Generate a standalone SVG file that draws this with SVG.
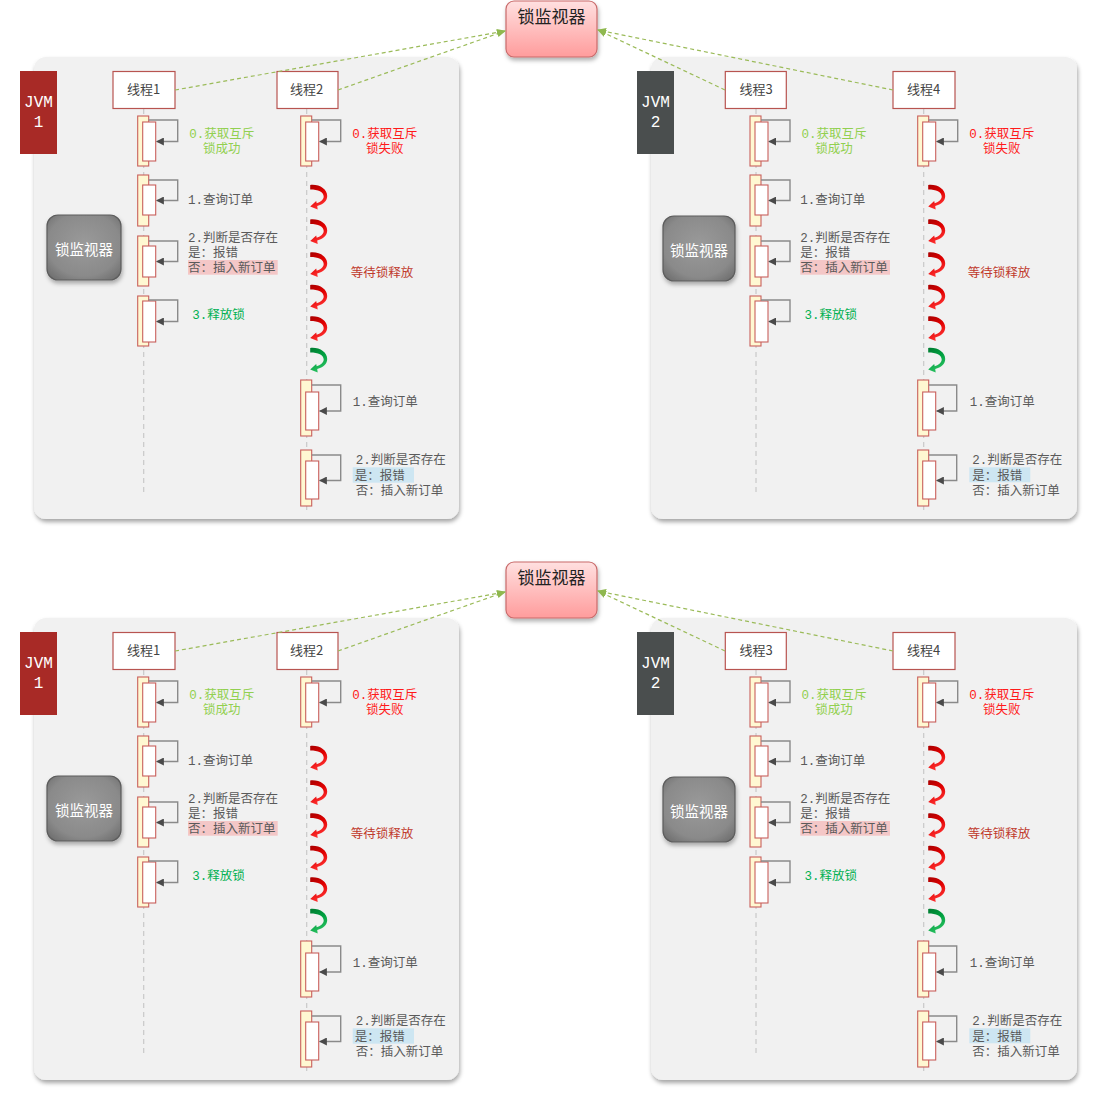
<svg xmlns="http://www.w3.org/2000/svg" xmlns:xlink="http://www.w3.org/1999/xlink" width="1097" height="1109" viewBox="0 0 1097 1109">
<style>
.panel{fill:#f1f1f1;filter:url(#psh)}
.jvm{font-family:"Liberation Mono","DejaVu Sans Mono",monospace;font-size:16px;fill:#ffffff;text-anchor:middle;dominant-baseline:central}
.thr{fill:#ffffff;stroke:#b85450;stroke-width:1.2}
.thrt{font-family:"Noto Sans CJK SC","Noto Sans",sans-serif;font-size:13px;fill:#444;text-anchor:middle;dominant-baseline:central;transform:translateY(-1.5px)}
.life{stroke:#c8c8c8;stroke-width:1.2;stroke-dasharray:5 4;fill:none}
.ao{fill:#fff8d2;stroke:#c9605c;stroke-width:1.1}
.ai{fill:#ffffff;stroke:#c9605c;stroke-width:1.1}
.loop{fill:none;stroke:#8a8a8a;stroke-width:1.4}
.t{font-family:"Liberation Mono","Noto Sans CJK SC",monospace;font-size:12.5px;fill:#5a5a5a;dominant-baseline:central;transform:translateY(1.5px)}
.ok{fill:#92d050;text-anchor:middle}
.bad{fill:#ff1a1a;text-anchor:middle}
.rel{fill:#00b050}
.wait{fill:#c0392b}
.pink{fill:#f4c7c7}
.blue{fill:#cde6f2}
.conn{fill:none;stroke:#9bbb59;stroke-width:1.2;stroke-dasharray:4 3}
.mon{fill:url(#mong);stroke:#c96b6b;stroke-width:1.2;filter:url(#bsh)}
.mont{font-family:"Noto Sans CJK SC","Noto Sans",sans-serif;font-size:17px;fill:#222;text-anchor:middle;dominant-baseline:central;transform:translateY(-1.5px)}
.gm{fill:url(#grayg);stroke:#5c5c5c;stroke-width:1.2;filter:url(#bsh)}
.gmt{font-family:"Noto Sans CJK SC","Noto Sans",sans-serif;font-size:14.5px;fill:#ffffff;text-anchor:middle;dominant-baseline:central}
</style>
<defs>
<filter id="psh" x="-5%" y="-5%" width="110%" height="112%"><feDropShadow dx="1" dy="3" stdDeviation="2" flood-color="#000" flood-opacity="0.35"/></filter>
<filter id="bsh" x="-20%" y="-20%" width="140%" height="150%"><feDropShadow dx="1" dy="3" stdDeviation="2" flood-color="#000" flood-opacity="0.3"/></filter>
<linearGradient id="mong" x1="0" y1="0" x2="0" y2="1"><stop offset="0" stop-color="#ffe0e0"/><stop offset="1" stop-color="#ff9c9c"/></linearGradient>
<radialGradient id="grayg" cx="0.5" cy="0.45" r="0.7"><stop offset="0" stop-color="#9a9a9a"/><stop offset="0.7" stop-color="#8a8a8a"/><stop offset="1" stop-color="#6c6c6c"/></radialGradient>
<linearGradient id="redg" x1="0" y1="0" x2="0.4" y2="1"><stop offset="0" stop-color="#a80000"/><stop offset="0.5" stop-color="#e00000"/><stop offset="1" stop-color="#ff3333"/></linearGradient>
<linearGradient id="greeng" x1="0" y1="0" x2="0.4" y2="1"><stop offset="0" stop-color="#007a30"/><stop offset="0.5" stop-color="#00a040"/><stop offset="1" stop-color="#2ac060"/></linearGradient>
<path id="cv" d="M0,0 C9,-1 17,4 17,11 C17,16 13,19.5 7,21 L7.5,24.5 L0,21.5 L6,16 L6.5,18.3 C10,17 13.5,15 13.5,11.5 C13.5,7 8,4.5 0,4.5 Z"/>
<marker id="ah" viewBox="0 0 10 10" refX="9" refY="5" markerWidth="8" markerHeight="8" markerUnits="userSpaceOnUse" orient="auto"><path d="M0,0 L10,5 L0,10 z" fill="#4a4a4a"/></marker>
<marker id="ga" viewBox="0 0 10 10" refX="9" refY="5" markerWidth="9" markerHeight="9" markerUnits="userSpaceOnUse" orient="auto"><path d="M0,1 L10,5 L0,9 z" fill="#8fb84f"/></marker>
</defs>

<!-- ================= TOP HALF ================= -->
<g id="top">
<g id="panel-jvm1-top"><rect class="panel" x="34" y="57" width="425" height="462" rx="12"/></g>
<g id="panel-jvm2-top"><rect class="panel" x="651" y="57" width="426" height="462" rx="12"/></g>

<g id="jvm1-top"><rect x="20" y="71" width="37" height="83" fill="#a82a26"/><text class="jvm" x="38.5" y="102.5">JVM</text><text class="jvm" x="38.5" y="122.5">1</text></g>
<g id="jvm2-top"><rect x="637" y="71" width="37" height="83" fill="#4a4e4e"/><text class="jvm" x="655.5" y="102.5">JVM</text><text class="jvm" x="655.5" y="122.5">2</text></g>

<g id="monitor-top"><rect class="mon" x="506" y="1" width="91" height="56" rx="8"/><text class="mont" x="551.5" y="17">锁监视器</text></g>
<g id="gm1-top"><rect class="gm" x="47" y="215" width="74" height="65" rx="11"/><text class="gmt" x="84" y="248">锁监视器</text></g>
<g id="gm2-top"><rect class="gm" x="663" y="216" width="72" height="65" rx="11"/><text class="gmt" x="699" y="249">锁监视器</text></g>

<!-- Thread 1 -->
<g id="t1-top" transform="translate(143.7,0)">
<line class="life" x1="0" y1="109" x2="0" y2="495"/>
<rect class="thr" x="-30.7" y="71.5" width="62" height="37"/><text class="thrt" x="0" y="90">线程1</text>
<rect class="ao" x="-6" y="116" width="11" height="50"/><rect class="ai" x="-1" y="122" width="13" height="39"/><path class="loop" d="M5,120 H34 V141.5 H13" marker-end="url(#ah)"/>
<text class="t ok" x="78" y="133.3">0.获取互斥</text><text class="t ok" x="78" y="148.5">锁成功</text>
<rect class="ao" x="-6" y="175" width="11" height="51"/><rect class="ai" x="-1" y="185" width="13" height="30"/><path class="loop" d="M5,180 H34 V200.5 H13" marker-end="url(#ah)"/>
<text class="t" x="44.3" y="199">1.查询订单</text>
<rect class="ao" x="-6" y="236" width="11" height="50"/><rect class="ai" x="-1" y="246" width="13" height="31"/><path class="loop" d="M5,241 H34 V261.5 H13" marker-end="url(#ah)"/>
<rect class="pink" x="44.3" y="260" width="89.7" height="14.7"/>
<text class="t" x="44.3" y="237">2.判断是否存在</text><text class="t" x="44.3" y="252.7">是：报错</text><text class="t" x="44.3" y="267.7">否：插入新订单</text>
<rect class="ao" x="-6" y="296" width="11" height="50"/><rect class="ai" x="-1" y="301" width="13" height="41"/><path class="loop" d="M5,300 H34 V321.5 H13" marker-end="url(#ah)"/>
<text class="t rel" x="48.6" y="314">3.释放锁</text>
</g>

<!-- Thread 2 -->
<g id="t2-top" transform="translate(306.7,0)">
<line class="life" x1="0" y1="109" x2="0" y2="511"/>
<rect class="thr" x="-29.7" y="71.5" width="61" height="37"/><text class="thrt" x="0" y="90">线程2</text>
<rect class="ao" x="-6" y="116" width="11" height="50"/><rect class="ai" x="-1" y="122" width="13" height="39"/><path class="loop" d="M5,120 H34 V141.5 H13" marker-end="url(#ah)"/>
<text class="t bad" x="78" y="133.7">0.获取互斥</text><text class="t bad" x="78" y="148.7">锁失败</text>
<use xlink:href="#cv" x="3.5" y="185" fill="url(#redg)"/>
<use xlink:href="#cv" x="3.5" y="219.5" fill="url(#redg)"/>
<use xlink:href="#cv" x="3.5" y="252.5" fill="url(#redg)"/>
<use xlink:href="#cv" x="3.5" y="285" fill="url(#redg)"/>
<use xlink:href="#cv" x="3.5" y="316.5" fill="url(#redg)"/>
<use xlink:href="#cv" x="3.5" y="348" fill="url(#greeng)"/>
<text class="t wait" x="44" y="272.5">等待锁释放</text>
<rect class="ao" x="-6" y="380" width="11" height="56"/><rect class="ai" x="-1" y="392" width="13" height="38"/><path class="loop" d="M5,385 H34 V411 H13" marker-end="url(#ah)"/>
<text class="t" x="46" y="401.7">1.查询订单</text>
<rect class="ao" x="-6" y="450" width="11" height="56"/><rect class="ai" x="-1" y="461" width="13" height="38"/><path class="loop" d="M5,455 H34 V480.5 H13" marker-end="url(#ah)"/>
<rect class="blue" x="46" y="467.3" width="61.3" height="15.4"/>
<text class="t" x="49" y="459">2.判断是否存在</text><text class="t" x="48" y="475">是：报错</text><text class="t" x="49" y="490">否：插入新订单</text>
</g>

<!-- Thread 3 -->
<g id="t3-top" transform="translate(756,0)">
<line class="life" x1="0" y1="109" x2="0" y2="496"/>
<rect class="thr" x="-30.7" y="71.5" width="61" height="37"/><text class="thrt" x="0" y="90">线程3</text>
<rect class="ao" x="-6" y="116" width="11" height="50"/><rect class="ai" x="-1" y="122" width="13" height="39"/><path class="loop" d="M5,120 H34 V141.5 H13" marker-end="url(#ah)"/>
<text class="t ok" x="78" y="133.3">0.获取互斥</text><text class="t ok" x="78" y="148.5">锁成功</text>
<rect class="ao" x="-6" y="175" width="11" height="51"/><rect class="ai" x="-1" y="185" width="13" height="30"/><path class="loop" d="M5,180 H34 V200.5 H13" marker-end="url(#ah)"/>
<text class="t" x="44.3" y="199">1.查询订单</text>
<rect class="ao" x="-6" y="236" width="11" height="50"/><rect class="ai" x="-1" y="246" width="13" height="31"/><path class="loop" d="M5,241 H34 V261.5 H13" marker-end="url(#ah)"/>
<rect class="pink" x="44.3" y="260" width="89.7" height="14.7"/>
<text class="t" x="44.3" y="237">2.判断是否存在</text><text class="t" x="44.3" y="252.7">是：报错</text><text class="t" x="44.3" y="267.7">否：插入新订单</text>
<rect class="ao" x="-6" y="296" width="11" height="50"/><rect class="ai" x="-1" y="301" width="13" height="41"/><path class="loop" d="M5,300 H34 V321.5 H13" marker-end="url(#ah)"/>
<text class="t rel" x="48.6" y="314">3.释放锁</text>
</g>

<!-- Thread 4 -->
<g id="t4-top" transform="translate(923.7,0)">
<line class="life" x1="0" y1="109" x2="0" y2="511"/>
<rect class="thr" x="-30.7" y="71.5" width="62" height="37"/><text class="thrt" x="0" y="90">线程4</text>
<rect class="ao" x="-6" y="116" width="11" height="50"/><rect class="ai" x="-1" y="122" width="13" height="39"/><path class="loop" d="M5,120 H34 V141.5 H13" marker-end="url(#ah)"/>
<text class="t bad" x="78" y="133.7">0.获取互斥</text><text class="t bad" x="78" y="148.7">锁失败</text>
<use xlink:href="#cv" x="4.5" y="185" fill="url(#redg)"/>
<use xlink:href="#cv" x="4.5" y="219.5" fill="url(#redg)"/>
<use xlink:href="#cv" x="4.5" y="252.5" fill="url(#redg)"/>
<use xlink:href="#cv" x="4.5" y="285" fill="url(#redg)"/>
<use xlink:href="#cv" x="4.5" y="316.5" fill="url(#redg)"/>
<use xlink:href="#cv" x="4.5" y="348" fill="url(#greeng)"/>
<text class="t wait" x="44" y="272.5">等待锁释放</text>
<rect class="ao" x="-6" y="380" width="11" height="56"/><rect class="ai" x="-1" y="392" width="13" height="38"/><path class="loop" d="M5,385 H33 V411 H13" marker-end="url(#ah)"/>
<text class="t" x="46" y="401.7">1.查询订单</text>
<rect class="ao" x="-6" y="450" width="11" height="56"/><rect class="ai" x="-1" y="461" width="13" height="38"/><path class="loop" d="M5,455 H33 V480.5 H13" marker-end="url(#ah)"/>
<rect class="blue" x="45.6" y="467.3" width="61" height="15"/>
<text class="t" x="48.6" y="459">2.判断是否存在</text><text class="t" x="48.6" y="475">是：报错</text><text class="t" x="48.6" y="490">否：插入新订单</text>
</g>

<g id="connectors-top">
<path class="conn" d="M175,90 L505,31" marker-end="url(#ga)"/>
<path class="conn" d="M338,90 L505,31" marker-end="url(#ga)"/>
<path class="conn" d="M725,90 L598,30" marker-end="url(#ga)"/>
<path class="conn" d="M893,90 L598,30" marker-end="url(#ga)"/>
</g>
</g>

<!-- ================= BOTTOM HALF ================= -->
<g id="bottom" transform="translate(0,561)">
<g id="panel-jvm1-bot"><rect class="panel" x="34" y="57" width="425" height="462" rx="12"/></g>
<g id="panel-jvm2-bot"><rect class="panel" x="651" y="57" width="426" height="462" rx="12"/></g>

<g id="jvm1-bot"><rect x="20" y="71" width="37" height="83" fill="#a82a26"/><text class="jvm" x="38.5" y="102.5">JVM</text><text class="jvm" x="38.5" y="122.5">1</text></g>
<g id="jvm2-bot"><rect x="637" y="71" width="37" height="83" fill="#4a4e4e"/><text class="jvm" x="655.5" y="102.5">JVM</text><text class="jvm" x="655.5" y="122.5">2</text></g>

<g id="monitor-bot"><rect class="mon" x="506" y="1" width="91" height="56" rx="8"/><text class="mont" x="551.5" y="17">锁监视器</text></g>
<g id="gm1-bot"><rect class="gm" x="47" y="215" width="74" height="65" rx="11"/><text class="gmt" x="84" y="248">锁监视器</text></g>
<g id="gm2-bot"><rect class="gm" x="663" y="216" width="72" height="65" rx="11"/><text class="gmt" x="699" y="249">锁监视器</text></g>

<g id="t1-bot" transform="translate(143.7,0)">
<line class="life" x1="0" y1="109" x2="0" y2="495"/>
<rect class="thr" x="-30.7" y="71.5" width="62" height="37"/><text class="thrt" x="0" y="90">线程1</text>
<rect class="ao" x="-6" y="116" width="11" height="50"/><rect class="ai" x="-1" y="122" width="13" height="39"/><path class="loop" d="M5,120 H34 V141.5 H13" marker-end="url(#ah)"/>
<text class="t ok" x="78" y="133.3">0.获取互斥</text><text class="t ok" x="78" y="148.5">锁成功</text>
<rect class="ao" x="-6" y="175" width="11" height="51"/><rect class="ai" x="-1" y="185" width="13" height="30"/><path class="loop" d="M5,180 H34 V200.5 H13" marker-end="url(#ah)"/>
<text class="t" x="44.3" y="199">1.查询订单</text>
<rect class="ao" x="-6" y="236" width="11" height="50"/><rect class="ai" x="-1" y="246" width="13" height="31"/><path class="loop" d="M5,241 H34 V261.5 H13" marker-end="url(#ah)"/>
<rect class="pink" x="44.3" y="260" width="89.7" height="14.7"/>
<text class="t" x="44.3" y="237">2.判断是否存在</text><text class="t" x="44.3" y="252.7">是：报错</text><text class="t" x="44.3" y="267.7">否：插入新订单</text>
<rect class="ao" x="-6" y="296" width="11" height="50"/><rect class="ai" x="-1" y="301" width="13" height="41"/><path class="loop" d="M5,300 H34 V321.5 H13" marker-end="url(#ah)"/>
<text class="t rel" x="48.6" y="314">3.释放锁</text>
</g>

<g id="t2-bot" transform="translate(306.7,0)">
<line class="life" x1="0" y1="109" x2="0" y2="511"/>
<rect class="thr" x="-29.7" y="71.5" width="61" height="37"/><text class="thrt" x="0" y="90">线程2</text>
<rect class="ao" x="-6" y="116" width="11" height="50"/><rect class="ai" x="-1" y="122" width="13" height="39"/><path class="loop" d="M5,120 H34 V141.5 H13" marker-end="url(#ah)"/>
<text class="t bad" x="78" y="133.7">0.获取互斥</text><text class="t bad" x="78" y="148.7">锁失败</text>
<use xlink:href="#cv" x="3.5" y="185" fill="url(#redg)"/>
<use xlink:href="#cv" x="3.5" y="219.5" fill="url(#redg)"/>
<use xlink:href="#cv" x="3.5" y="252.5" fill="url(#redg)"/>
<use xlink:href="#cv" x="3.5" y="285" fill="url(#redg)"/>
<use xlink:href="#cv" x="3.5" y="316.5" fill="url(#redg)"/>
<use xlink:href="#cv" x="3.5" y="348" fill="url(#greeng)"/>
<text class="t wait" x="44" y="272.5">等待锁释放</text>
<rect class="ao" x="-6" y="380" width="11" height="56"/><rect class="ai" x="-1" y="392" width="13" height="38"/><path class="loop" d="M5,385 H34 V411 H13" marker-end="url(#ah)"/>
<text class="t" x="46" y="401.7">1.查询订单</text>
<rect class="ao" x="-6" y="450" width="11" height="56"/><rect class="ai" x="-1" y="461" width="13" height="38"/><path class="loop" d="M5,455 H34 V480.5 H13" marker-end="url(#ah)"/>
<rect class="blue" x="46" y="467.3" width="61.3" height="15.4"/>
<text class="t" x="49" y="459">2.判断是否存在</text><text class="t" x="48" y="475">是：报错</text><text class="t" x="49" y="490">否：插入新订单</text>
</g>

<g id="t3-bot" transform="translate(756,0)">
<line class="life" x1="0" y1="109" x2="0" y2="496"/>
<rect class="thr" x="-30.7" y="71.5" width="61" height="37"/><text class="thrt" x="0" y="90">线程3</text>
<rect class="ao" x="-6" y="116" width="11" height="50"/><rect class="ai" x="-1" y="122" width="13" height="39"/><path class="loop" d="M5,120 H34 V141.5 H13" marker-end="url(#ah)"/>
<text class="t ok" x="78" y="133.3">0.获取互斥</text><text class="t ok" x="78" y="148.5">锁成功</text>
<rect class="ao" x="-6" y="175" width="11" height="51"/><rect class="ai" x="-1" y="185" width="13" height="30"/><path class="loop" d="M5,180 H34 V200.5 H13" marker-end="url(#ah)"/>
<text class="t" x="44.3" y="199">1.查询订单</text>
<rect class="ao" x="-6" y="236" width="11" height="50"/><rect class="ai" x="-1" y="246" width="13" height="31"/><path class="loop" d="M5,241 H34 V261.5 H13" marker-end="url(#ah)"/>
<rect class="pink" x="44.3" y="260" width="89.7" height="14.7"/>
<text class="t" x="44.3" y="237">2.判断是否存在</text><text class="t" x="44.3" y="252.7">是：报错</text><text class="t" x="44.3" y="267.7">否：插入新订单</text>
<rect class="ao" x="-6" y="296" width="11" height="50"/><rect class="ai" x="-1" y="301" width="13" height="41"/><path class="loop" d="M5,300 H34 V321.5 H13" marker-end="url(#ah)"/>
<text class="t rel" x="48.6" y="314">3.释放锁</text>
</g>

<g id="t4-bot" transform="translate(923.7,0)">
<line class="life" x1="0" y1="109" x2="0" y2="511"/>
<rect class="thr" x="-30.7" y="71.5" width="62" height="37"/><text class="thrt" x="0" y="90">线程4</text>
<rect class="ao" x="-6" y="116" width="11" height="50"/><rect class="ai" x="-1" y="122" width="13" height="39"/><path class="loop" d="M5,120 H34 V141.5 H13" marker-end="url(#ah)"/>
<text class="t bad" x="78" y="133.7">0.获取互斥</text><text class="t bad" x="78" y="148.7">锁失败</text>
<use xlink:href="#cv" x="4.5" y="185" fill="url(#redg)"/>
<use xlink:href="#cv" x="4.5" y="219.5" fill="url(#redg)"/>
<use xlink:href="#cv" x="4.5" y="252.5" fill="url(#redg)"/>
<use xlink:href="#cv" x="4.5" y="285" fill="url(#redg)"/>
<use xlink:href="#cv" x="4.5" y="316.5" fill="url(#redg)"/>
<use xlink:href="#cv" x="4.5" y="348" fill="url(#greeng)"/>
<text class="t wait" x="44" y="272.5">等待锁释放</text>
<rect class="ao" x="-6" y="380" width="11" height="56"/><rect class="ai" x="-1" y="392" width="13" height="38"/><path class="loop" d="M5,385 H33 V411 H13" marker-end="url(#ah)"/>
<text class="t" x="46" y="401.7">1.查询订单</text>
<rect class="ao" x="-6" y="450" width="11" height="56"/><rect class="ai" x="-1" y="461" width="13" height="38"/><path class="loop" d="M5,455 H33 V480.5 H13" marker-end="url(#ah)"/>
<rect class="blue" x="45.6" y="467.3" width="61" height="15"/>
<text class="t" x="48.6" y="459">2.判断是否存在</text><text class="t" x="48.6" y="475">是：报错</text><text class="t" x="48.6" y="490">否：插入新订单</text>
</g>

<g id="connectors-bot">
<path class="conn" d="M175,90 L505,31" marker-end="url(#ga)"/>
<path class="conn" d="M338,90 L505,31" marker-end="url(#ga)"/>
<path class="conn" d="M725,90 L598,30" marker-end="url(#ga)"/>
<path class="conn" d="M893,90 L598,30" marker-end="url(#ga)"/>
</g>
</g>
</svg>
